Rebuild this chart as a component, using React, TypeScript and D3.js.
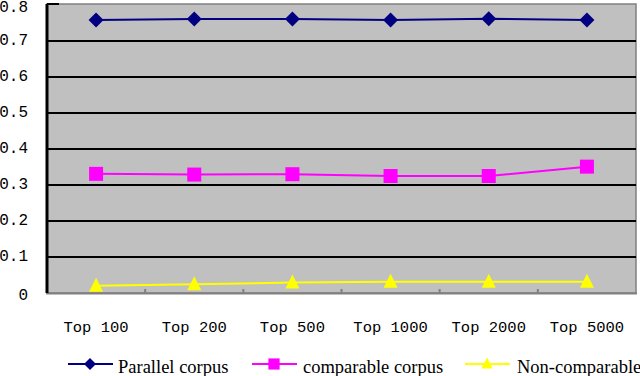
import React from "react";
import * as d3 from "d3";

const categories = ["Top 100", "Top 200", "Top 500", "Top 1000", "Top 2000", "Top 5000"];
const parallel = [0.758, 0.761, 0.761, 0.758, 0.762, 0.758];
const comparable = [0.331, 0.329, 0.33, 0.325, 0.325, 0.351];
const nonComparable = [0.02, 0.024, 0.029, 0.031, 0.031, 0.031];
const yTicks = [0, 0.1, 0.2, 0.3, 0.4, 0.5, 0.6, 0.7, 0.8];
const seriesNames = ["Parallel corpus", "comparable corpus", "Non-comparable"];

const W = 640, H = 376;
const left = 47, right = 636, top = 5, bottom = 293;

export default function App() {
  const x = d3.scaleBand<string>().domain(categories).range([left, right]);
  const y = d3.scaleLinear().domain([0, 0.8]).range([bottom, top]);
  const cx = (c: string) => (x(c) as number) + x.bandwidth() / 2;
  const line = d3.line<[number, number]>().x(d => d[0]).y(d => d[1]);

  const series = [
    { name: seriesNames[0], values: parallel, color: "#000080", marker: "diamond" },
    { name: seriesNames[1], values: comparable, color: "#ff00ff", marker: "square" },
    { name: seriesNames[2], values: nonComparable, color: "#ffff00", marker: "triangle" },
  ];

  const marker = (type: string, px: number, py: number, color: string, key: any, k = 1) => {
    if (type === "diamond") {
      const s = 7.5 * k;
      return <path key={key} d={`M${px},${py - s}L${px + s},${py}L${px},${py + s}L${px - s},${py}Z`} fill={color} />;
    }
    if (type === "square") {
      const s = 7 * k;
      return <rect key={key} x={px - s} y={py - s} width={2 * s} height={2 * s} fill={color} />;
    }
    const s = 7 * k;
    return <path key={key} d={`M${px},${py - s - 1}L${px + s},${py + s - 1}L${px - s},${py + s - 1}Z`} fill={color} />;
  };

  const legendItems = [
    { lx: 68, tx: 118 },
    { lx: 252, tx: 303 },
    { lx: 465, tx: 517 },
  ];

  return (
    <svg width={W} height={H} style={{ position: "absolute", left: 0, top: 0, background: "#fff" }}>
      <rect x={left} y={top - 1} width={right - left} height={bottom - top + 1} fill="#c0c0c0" stroke="#808080" strokeWidth={1.5} />
      {yTicks.filter(t => t > 0 && t < 0.8).map(t => (
        <line key={t} x1={left} x2={right} y1={y(t)} y2={y(t)} stroke="#000" strokeWidth={2} />
      ))}
      {categories.slice(1).map(c => (
        <line key={c} x1={x(c) as number} x2={x(c) as number} y1={bottom - 4} y2={bottom} stroke="#808080" strokeWidth={2} />
      ))}
      <line x1={left - 1} x2={right + 1} y1={bottom + 0.5} y2={bottom + 0.5} stroke="#808080" strokeWidth={2} />
      <line x1={left} x2={left} y1={top - 1} y2={bottom} stroke="#000" strokeWidth={3} />
      <line x1={left} x2={left + 12} y1={top - 1} y2={top - 1} stroke="#000" strokeWidth={2} />
      {yTicks.map(t => (
        <text key={t} x={28} y={y(t) + (t === 0 ? 3 : t === 0.8 ? 3 : 0)} textAnchor="end" dominantBaseline="central"
          fontFamily="Liberation Mono, monospace" fontSize={16} fill="#000">{String(t)}</text>
      ))}
      {categories.map(c => (
        <text key={c} x={cx(c)} y={328} textAnchor="middle" dominantBaseline="central"
          fontFamily="Liberation Mono, monospace" fontSize={15.5} fill="#000">{c}</text>
      ))}
      {series.map(s => (
        <g key={s.name}>
          <path d={line(categories.map((c, i) => [cx(c), y(s.values[i])]) as any) || ""} fill="none" stroke={s.color} strokeWidth={2} />
          {categories.map((c, i) => marker(s.marker, cx(c), y(s.values[i]), s.color, c))}
        </g>
      ))}
      {series.map((s, i) => (
        <g key={s.name + "l"}>
          <line x1={legendItems[i].lx} x2={legendItems[i].lx + 45} y1={364} y2={364} stroke={s.color} strokeWidth={2} />
          {marker(s.marker, legendItems[i].lx + 22, 364, s.color, "m", 0.8)}
          <text x={legendItems[i].tx} y={367} dominantBaseline="central" fontFamily="Liberation Serif, serif" fontSize={18.5} fill="#000">{s.name}</text>
        </g>
      ))}
    </svg>
  );
}
